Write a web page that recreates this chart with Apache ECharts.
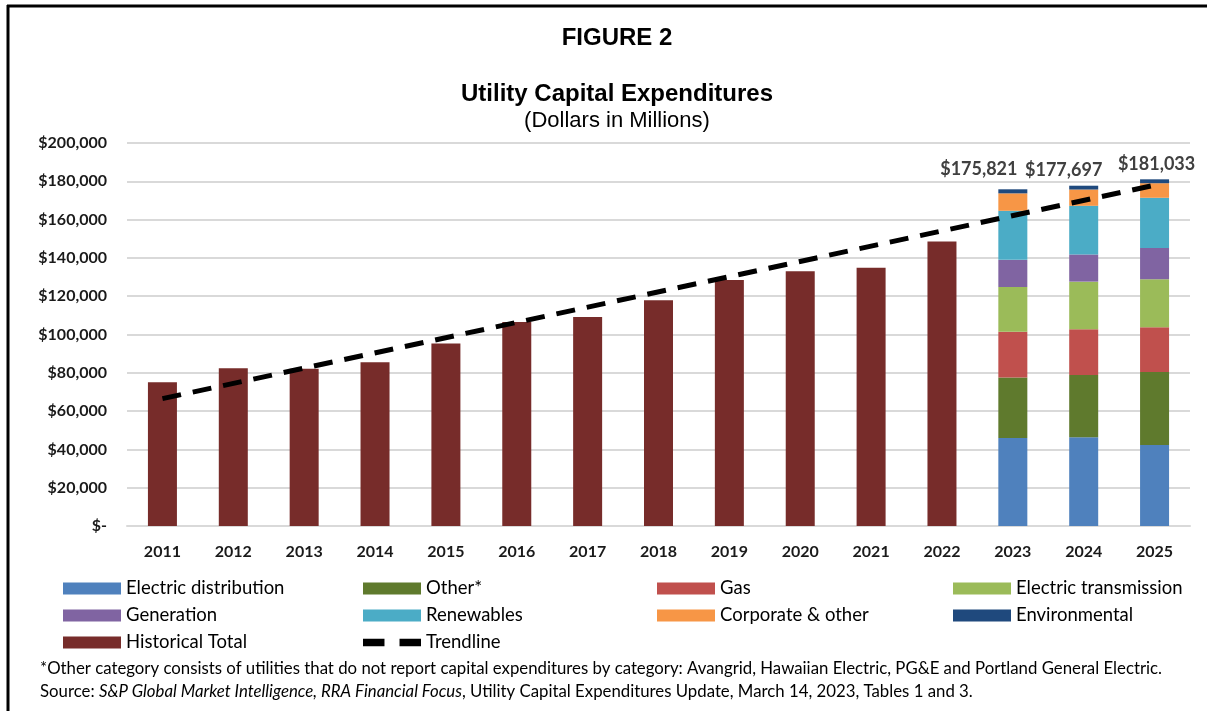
<!DOCTYPE html>
<html>
<head>
<meta charset="utf-8">
<script src="https://cdn.jsdelivr.net/npm/echarts@6/dist/echarts.min.js"></script>
<style>
  html, body { margin: 0; padding: 0; background: #fff; }
  #main { width: 1207px; height: 711px; }
</style>
</head>
<body>
<div id="main"></div>
<script>
const chartDom = document.getElementById('main');
const myChart = echarts.init(chartDom);

// data (millions of dollars)
const years = ['2011', '2012', '2013', '2014', '2015', '2016', '2017', '2018',
  '2019', '2020', '2021', '2022', '2023', '2024', '2025'];
const historicalTotal = [75100, 82400, 82100, 85500, 95300, 106500, 109200, 117900,
  128500, 133000, 134800, 148600, null, null, null];
const electricDistribution = [45900, 46400, 42300];
const otherCat = [31700, 32500, 38100];
const gas = [23800, 23900, 23400];
const electricTransmission = [23400, 24800, 25000];
const generation = [14200, 14200, 16400];
const renewables = [25600, 25400, 26200];
const corporateOther = [9100, 8500, 7600];
const environmental = [2121, 1997, 2033];
const forecastTotals = [175821, 177697, 181033];
// trendline end points (2011 and 2025)
const trendline = [66500, null, null, null, null, null, null, null, null, null, null, null, null, null, 178000];

const FONT = 'Lato';
const pad = arr => Array(12).fill(null).concat(arr);

function stackSeries(name, values, color) {
  return {
    name,
    type: 'bar',
    stack: 'capex',
    barWidth: 29,
    itemStyle: { color },
    data: pad(values)
  };
}

// label nudges so totals sit like the original
const labelOffsets = [[-34, -6], [-20, -2], [2, -1]];

const envSeries = stackSeries('Environmental', environmental, '#1F497D');
envSeries.data = pad(environmental.map((v, i) => ({
  value: v,
  label: {
    show: true,
    position: 'top',
    offset: labelOffsets[i],
    formatter: '$' + forecastTotals[i].toLocaleString('en-US'),
    fontFamily: FONT,
    fontWeight: 'bold',
    fontSize: 18,
    color: '#404040'
  }
})));

const legendText = { fontFamily: FONT, fontSize: 18.5, color: '#000', lineHeight: 16 };
const dashIcon = 'path://M0,0H20V7H0Z M34,0H54V7H34Z';
function legendCol(left, names) {
  return {
    orient: 'vertical',
    left,
    top: 574,
    icon: 'rect',
    itemWidth: 58,
    itemHeight: 12,
    itemGap: 8,
    textStyle: legendText,
    data: names.map(n => n === 'Trendline' ? { name: n, icon: dashIcon } : n)
  };
}

const titleFont = { fontFamily: 'Liberation Sans', color: '#000' };

const option = {
  backgroundColor: '#fff',
  animation: false,
  title: [
    { text: 'FIGURE 2', left: 612, top: 21, textAlign: 'center',
      textStyle: Object.assign({ fontWeight: 'bold', fontSize: 24 }, titleFont) },
    { text: 'Utility Capital Expenditures', left: 612, top: 77, textAlign: 'center',
      textStyle: Object.assign({ fontWeight: 'bold', fontSize: 24 }, titleFont) },
    { text: '(Dollars in Millions)', left: 612, top: 105, textAlign: 'center',
      textStyle: Object.assign({ fontWeight: 'normal', fontSize: 22 }, titleFont) }
  ],
  grid: { left: 127, right: 17, top: 143, bottom: 185 },
  legend: [
    legendCol(58, ['Electric distribution', 'Generation', 'Historical Total']),
    legendCol(358, ['Other*', 'Renewables', 'Trendline']),
    legendCol(652, ['Gas', 'Corporate & other']),
    legendCol(948, ['Electric transmission', 'Environmental'])
  ],
  xAxis: {
    type: 'category',
    data: years,
    axisTick: { show: false },
    axisLine: { lineStyle: { color: '#d9d9d9', width: 2 } },
    axisLabel: { margin: 18, fontFamily: FONT, fontWeight: 'bold', fontSize: 16, color: '#1a1a1a' }
  },
  yAxis: {
    type: 'value',
    min: 0,
    max: 200000,
    interval: 20000,
    axisLine: { show: false },
    axisTick: { show: false },
    splitLine: { lineStyle: { color: '#d9d9d9', width: 2 } },
    axisLabel: {
      margin: 20,
      fontFamily: FONT,
      fontWeight: 'bold',
      fontSize: 16,
      color: '#1a1a1a',
      formatter: v => v === 0 ? '$-' : '$' + v.toLocaleString('en-US')
    }
  },
  series: [
    {
      name: 'Historical Total',
      type: 'bar',
      stack: 'capex',
      barWidth: 29,
      itemStyle: { color: '#772C2A' },
      data: historicalTotal
    },
    stackSeries('Electric distribution', electricDistribution, '#4F81BD'),
    stackSeries('Other*', otherCat, '#5F7A2D'),
    stackSeries('Gas', gas, '#C0504D'),
    stackSeries('Electric transmission', electricTransmission, '#9BBB59'),
    stackSeries('Generation', generation, '#8064A2'),
    stackSeries('Renewables', renewables, '#4BACC6'),
    stackSeries('Corporate & other', corporateOther, '#F79646'),
    envSeries,
    {
      name: 'Trendline',
      type: 'line',
      data: trendline,
      connectNulls: true,
      symbol: 'none',
      z: 5,
      itemStyle: { color: '#000' },
      lineStyle: { color: '#000', width: 5, type: [19, 12] }
    }
  ],
  graphic: [
    { type: 'line', shape: { x1: 7, y1: 6, x2: 1207, y2: 6 }, style: { stroke: '#000', lineWidth: 3 } },
    { type: 'line', shape: { x1: 8, y1: 5, x2: 8, y2: 711 }, style: { stroke: '#000', lineWidth: 3 } },
    {
      type: 'text', left: 40, top: 660,
      style: {
        text: '*Other category consists of utilities that do not report capital expenditures by category: Avangrid, Hawaiian Electric, PG&E and Portland General Electric.',
        fontFamily: FONT, fontSize: 16.8, fill: '#000'
      }
    },
    {
      type: 'text', left: 40, top: 683,
      style: {
        text: '{n|Source: }{i|S&P Global Market Intelligence, RRA Financial Focus}{n|, Utility Capital Expenditures Update, March 14, 2023, Tables 1 and 3.}',
        rich: {
          n: { fontFamily: FONT, fontSize: 16.8, fill: '#000' },
          i: { fontFamily: FONT, fontSize: 16.8, fontStyle: 'italic', fill: '#000' }
        }
      }
    }
  ]
};

myChart.setOption(option);
</script>
</body>
</html>
